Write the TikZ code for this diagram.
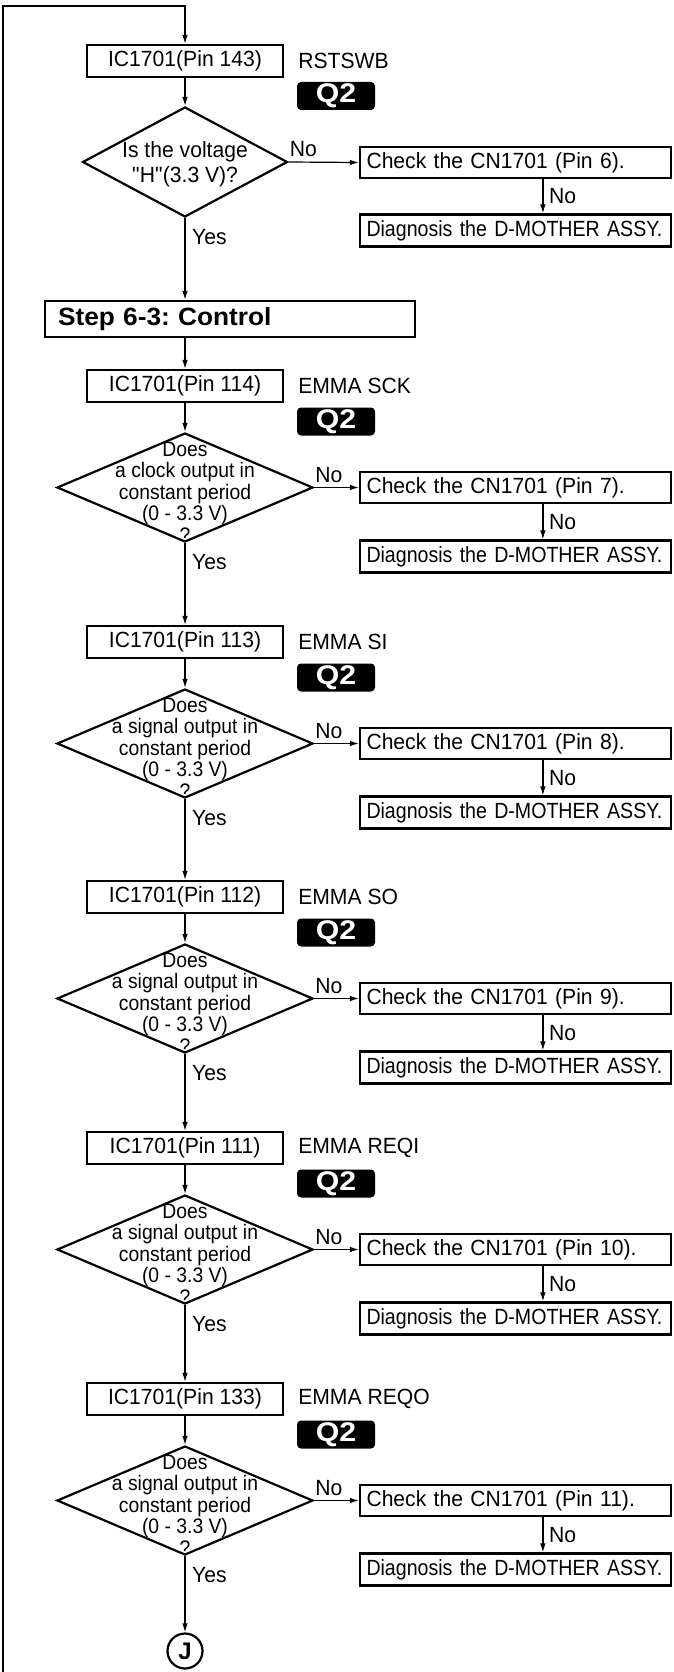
\documentclass[tikz,border=0pt]{standalone}
\usepackage{fontspec}
\setmainfont{Liberation Sans}
\newfontfamily\bodyfont[FakeStretch=0.96]{Liberation Sans}
\newfontfamily\narrowfont[FakeStretch=0.89]{Liberation Sans}
\newfontfamily\condfont[FakeStretch=0.92]{Liberation Sans}
\newfontfamily\widefont[FakeStretch=1.05]{Liberation Sans}
\newfontfamily\qfont[FakeStretch=1.12]{Liberation Sans}
\usetikzlibrary{shapes.geometric,arrows.meta,calc}
\frenchspacing

\tikzset{
  every node/.style={font=\bodyfont\fontsize{22}{25}\selectfont},
  icbox/.style={draw, line width=2.2pt, minimum width=196pt, minimum height=32pt, inner sep=0pt},
  decision/.style={draw, diamond, line width=2.2pt, minimum width=256pt, minimum height=109pt, inner sep=0pt},
  dtext/.style={align=center, inner sep=0pt, font=\condfont\fontsize{21}{21.5}\selectfont},
  checkbox/.style={draw, line width=2.2pt, minimum height=31pt, text width=298pt, inner xsep=6.5pt, inner ysep=0pt, align=left},
  diagbox/.style={checkbox, minimum height=32pt, font=\narrowfont\fontsize{22}{25}\selectfont},
  sidelabel/.style={anchor=west, inner sep=0pt},
  qtag/.style={fill=black, rounded corners=4pt, minimum width=78pt, minimum height=28pt, inner sep=0pt, text=white, font=\qfont\bfseries\fontsize{27}{27}\selectfont},
  stepbox/.style={draw, line width=2.2pt, minimum height=36pt, text width=344pt, inner xsep=13pt, inner ysep=0pt, align=left, font=\widefont\bfseries\fontsize{25}{28}\selectfont},
  flow/.style={line width=1.2pt, -{Latex[length=9pt,width=5.5pt]}},
  answer/.style={inner sep=0pt},
}

\begin{document}
\begin{tikzpicture}[x=1pt,y=-1pt]
\useasboundingbox (0,0) rectangle (673,1672);

% ---- first check: reset line ----
\node[icbox] (p1) at (185,61) {IC1701(Pin 143)};
\node[sidelabel] (l1) at ($(p1.east)+(14,0)$) {RSTSWB};
\node[qtag] (q1) at (336,96) {Q2};
\node[decision, minimum width=205pt, minimum height=110pt] (d1) at (185,162) {};
\node[align=center, inner sep=0pt, font=\bodyfont\fontsize{22}{25}\selectfont] (t1) at (185,164) {Is the voltage\\\textquotedbl H\textquotedbl(3.3 V)?};
\node[checkbox] (c1) at (515.5,162.5) {Check the CN1701 (Pin 6).};
\node[diagbox] (g1) at (515.5,230.5) {\mbox{Diagnosis the D-MOTHER ASSY.}};
\draw[flow] (d1.east) -- (c1.west);
\node[answer, anchor=south west] (n1) at ($(d1.east)+(1,-5)$) {No};
\coordinate (c1a) at ($(c1.south west)+(184,0)$);
\coordinate (g1a) at ($(g1.north west)+(184,0)$);
\draw[flow] (c1a) -- (g1a);
\node[answer, anchor=west] (m1) at ($(c1a)!0.5!(g1a)+(6,0)$) {No};
\node[answer, anchor=base west] (y1) at ($(d1.south)+(7,26)$) {Yes};

% loop line coming back from below
\coordinate (loopfoot) at (3,1672);
\coordinate (looptop) at (185,6);
\draw[flow] (loopfoot) |- (looptop) -- (p1.north);

% ---- step header ----
\node[stepbox] (s) at (230,319) {Step 6-3: Control};
\draw[flow] (d1.south) -- (d1.south |- s.north);

% ---- control line checks ----
\foreach \i/\B/\pin/\sig/\kind/\cn in {
  2/370/114/EMMA SCK/clock/7,
  3/626/113/EMMA SI/signal/8,
  4/881/112/EMMA SO/signal/9,
  5/1132/111/EMMA REQI/signal/10,
  6/1383/133/EMMA REQO/signal/11}{
  \node[icbox] (p\i) at (185,\B+16) {IC1701(Pin \pin)};
  \node[sidelabel] (l\i) at ($(p\i.east)+(14,0)$) {\sig};
  \node[qtag] (q\i) at (336,\B+51.5) {Q2};
  \node[decision] (d\i) at (185,\B+117.5) {};
  \node[dtext] (t\i) at (185,\B+122) {Does\\a \kind\ output in\\constant period\\(0 - 3.3 V)\\?};
  \node[checkbox] (c\i) at (515.5,\B+117.5) {Check the CN1701 (Pin \cn).};
  \node[diagbox] (g\i) at (515.5,\B+186.5) {\mbox{Diagnosis the D-MOTHER ASSY.}};
  \draw[flow] (d\i.east) -- (c\i.west);
  \node[answer, anchor=south west] (n\i) at ($(d\i.east)+(1,-5)$) {No};
  \coordinate (c\i a) at ($(c\i.south west)+(184,0)$);
  \coordinate (g\i a) at ($(g\i.north west)+(184,0)$);
  \draw[flow] (c\i a) -- (g\i a);
  \node[answer, anchor=west] (m\i) at ($(c\i a)!0.5!(g\i a)+(6,0)$) {No};
  \node[answer, anchor=base west] (y\i) at ($(d\i.south)+(7,26)$) {Yes};
  \draw[flow] (p\i.south) -- (d\i.north);
}

\draw[flow] (p1.south) -- (d1.north);
\draw[flow] (p2.north |- s.south) -- (p2.north);
\draw[flow] (d2.south) -- (p3.north);
\draw[flow] (d3.south) -- (p4.north);
\draw[flow] (d4.south) -- (p5.north);
\draw[flow] (d5.south) -- (p6.north);

% ---- connector to the next page ----
\node[circle, draw, line width=2.2pt, minimum size=35pt, inner sep=0pt, font=\bfseries\fontsize{24}{24}\selectfont] (J) at (185,1651) {J};
\draw[flow] (d6.south) -- (J.north);

\end{tikzpicture}
\end{document}
